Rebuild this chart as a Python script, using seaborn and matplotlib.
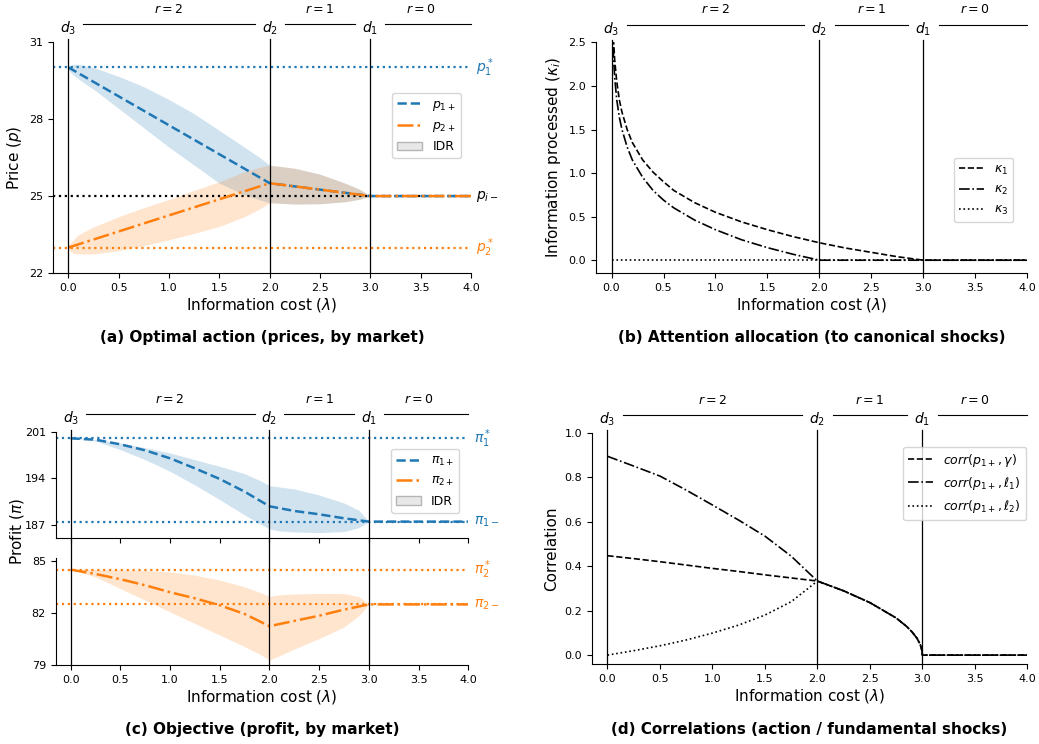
import matplotlib.pyplot as plt
import matplotlib.transforms as mtransforms
from matplotlib.lines import Line2D
from matplotlib.patches import Patch
import seaborn as sns

# regime markers drawn above every panel
d_pos = [0.0, 2.0, 3.0]
d_labels = ["$d_3$", "$d_2$", "$d_1$"]
r_labels = ["$r=2$", "$r=1$", "$r=0$"]
x_ticks = [0.0, 0.5, 1.0, 1.5, 2.0, 2.5, 3.0, 3.5, 4.0]

# (a) optimal prices
lam_a = [0.0, 2.0, 3.0, 4.0]
p1_plus = [30.0, 25.5, 25.0, 25.0]
p2_plus = [23.0, 25.5, 25.0, 25.0]
p1_star = 30.0
p_minus = 25.0
p2_star = 23.0
band_x_a = [0.0, 0.05, 0.1, 0.25, 0.5, 0.75, 1.0, 1.25, 1.5, 1.75, 1.9, 2.0, 2.25, 2.5, 2.75, 2.9, 3.0]
p1_upper = [30.05, 30.12, 30.12, 30.0, 29.65, 29.25, 28.75, 28.2, 27.55, 26.9, 26.5, 26.2, 26.08, 25.85, 25.5, 25.25, 25.0]
p1_lower = [29.9, 29.7, 29.55, 29.15, 28.4, 27.65, 26.9, 26.2, 25.5, 25.05, 24.85, 24.74, 24.69, 24.7, 24.78, 24.88, 25.0]
p2_upper = [23.1, 23.3, 23.5, 23.8, 24.2, 24.55, 24.87, 25.22, 25.56, 25.95, 26.12, 26.2, 26.08, 25.85, 25.5, 25.25, 25.0]
p2_lower = [22.9, 22.78, 22.75, 22.75, 22.88, 23.07, 23.3, 23.55, 23.82, 24.2, 24.5, 24.74, 24.69, 24.7, 24.78, 24.88, 25.0]

# (b) attention allocation
lam_b = [0.01, 0.02, 0.03, 0.05, 0.075, 0.1, 0.15, 0.2, 0.3, 0.4, 0.5, 0.6, 0.8, 1.0,
         1.25, 1.5, 1.75, 2.0, 2.25, 2.5, 2.75, 3.0, 3.5, 4.0]
kappa1 = [2.85, 2.5, 2.3, 2.05, 1.84, 1.7, 1.5, 1.35, 1.15, 1.01, 0.9, 0.8, 0.66, 0.55,
          0.44, 0.35, 0.27, 0.2, 0.14, 0.09, 0.04, 0.0, 0.0, 0.0]
kappa2 = [2.65, 2.3, 2.1, 1.84, 1.64, 1.5, 1.3, 1.15, 0.95, 0.8, 0.69, 0.6, 0.46, 0.35,
          0.235, 0.144, 0.067, 0.0, 0.0, 0.0, 0.0, 0.0, 0.0, 0.0]
lam_k3 = [0.0, 4.0]
kappa3 = [0.0, 0.0]

# (c) profits
lam_c = [0.0, 0.25, 0.5, 0.75, 1.0, 1.25, 1.5, 1.75, 2.0, 2.25, 2.5, 2.75, 3.0, 4.0]
pi1_plus = [200.0, 199.8, 199.1, 198.2, 197.0, 195.5, 193.9, 192.0, 189.8, 189.1, 188.6, 188.0, 187.5, 187.5]
pi2_plus = [84.5, 84.25, 83.95, 83.6, 83.2, 82.85, 82.45, 81.95, 81.25, 81.55, 81.85, 82.2, 82.5, 82.5]
pi1_star = 200.0
pi1_minus = 187.5
pi2_star = 84.5
pi2_minus = 82.5
band_x_c = [0.0, 0.25, 0.5, 0.75, 1.0, 1.25, 1.5, 1.75, 1.9, 2.0, 2.1, 2.25, 2.5, 2.75, 2.9, 3.0]
pi1_upper = [200.0, 199.8, 199.3, 198.6, 197.8, 196.8, 195.8, 194.7, 193.7, 192.9, 192.7, 192.4, 191.5, 190.3, 189.2, 187.5]
pi1_lower = [200.0, 199.6, 198.3, 196.8, 195.05, 193.0, 190.8, 188.5, 187.2, 186.4, 186.1, 185.95, 185.85, 186.0, 186.6, 187.5]
pi2_upper = [84.5, 84.52, 84.48, 84.45, 84.37, 84.18, 83.9, 83.5, 83.2, 82.97, 83.05, 83.1, 83.13, 83.12, 82.95, 82.5]
pi2_lower = [84.5, 84.08, 83.41, 82.74, 82.07, 81.4, 80.74, 80.07, 79.65, 79.3, 79.55, 79.93, 80.54, 81.2, 81.85, 82.5]

# (d) correlations
lam_d = [0.0, 0.25, 0.5, 0.75, 1.0, 1.25, 1.5, 1.75, 2.0, 2.25, 2.5, 2.75, 2.85, 2.9,
         2.95, 2.98, 2.995, 3.0, 4.0]
corr_gamma = [0.447, 0.434, 0.42, 0.405, 0.39, 0.376, 0.361, 0.347, 0.333, 0.289, 0.236,
              0.167, 0.129, 0.105, 0.075, 0.047, 0.023, 0.0, 0.0]
corr_l1 = [0.894, 0.85, 0.805, 0.742, 0.675, 0.607, 0.535, 0.445, 0.333, 0.289, 0.236,
           0.167, 0.129, 0.105, 0.075, 0.047, 0.023, 0.0, 0.0]
corr_l2 = [0.0, 0.02, 0.042, 0.068, 0.099, 0.135, 0.18, 0.24, 0.333, 0.289, 0.236,
           0.167, 0.129, 0.105, 0.075, 0.047, 0.023, 0.0, 0.0]

blue = '#1f77b4'
orange = '#ff7f0e'

plt.rcParams.update({
    'xtick.labelsize': 8,
    'ytick.labelsize': 8,
    'axes.labelsize': 11,
    'legend.fontsize': 9,
})


def add_regimes(ax, fig):
    xt = ax.get_xaxis_transform()
    line_tr = mtransforms.offset_copy(xt, fig=fig, y=12.5, units='points')
    bounds = d_pos + [4.0]
    for x, lab in zip(d_pos, d_labels):
        ax.annotate(lab, xy=(x, 1), xycoords=xt, xytext=(0, 9.5),
                    textcoords='offset points', ha='center', va='center', fontsize=10)
    for i, lab in enumerate(r_labels):
        x0, x1 = bounds[i], bounds[i + 1]
        end = x1 - 0.15 if i < 2 else x1
        ax.plot([x0 + 0.15, end], [1, 1], transform=line_tr, color='k', lw=0.8, clip_on=False)
        ax.annotate(lab, xy=((x0 + x1) / 2, 1), xycoords=xt, xytext=(0, 23.5),
                    textcoords='offset points', ha='center', va='center', fontsize=9)


def finish_x(ax, labels=True):
    ax.set_xlim(-0.15, 4.0)
    ax.set_xticks(x_ticks)
    ax.set_xticklabels([f"{t:.1f}" for t in x_ticks])
    if labels:
        ax.set_xlabel(r"Information cost ($\lambda$)", labelpad=2.5)
    else:
        ax.tick_params(labelbottom=False)
    sns.despine(ax=ax)


fig = plt.figure(figsize=(10.39, 7.44), dpi=100)

ax_a = fig.add_axes([0.0513, 0.6327, 0.4020, 0.3113])
ax_b = fig.add_axes([0.5736, 0.6327, 0.4151, 0.3103])
ax_c1 = fig.add_axes([0.0536, 0.2765, 0.3971, 0.1433])
ax_c2 = fig.add_axes([0.0536, 0.1058, 0.3971, 0.1438])
ax_d = fig.add_axes([0.5695, 0.1075, 0.4193, 0.3109])

## (a) prices
ax = ax_a
ax.fill_between(band_x_a, p1_lower, p1_upper, color=blue, alpha=0.2, lw=0)
ax.fill_between(band_x_a, p2_lower, p2_upper, color=orange, alpha=0.2, lw=0)
ax.axhline(p1_star, color=blue, ls=':', lw=1.6, zorder=1)
ax.axhline(p_minus, color='k', ls=':', lw=1.6, zorder=1)
ax.axhline(p2_star, color=orange, ls=':', lw=1.6, zorder=1)
sns.lineplot(x=lam_a, y=p1_plus, ax=ax, color=blue, linestyle='--', lw=1.8, legend=False)
sns.lineplot(x=lam_a, y=p2_plus, ax=ax, color=orange, linestyle='-.', lw=1.8, legend=False)
for x in d_pos:
    ax.axvline(x, color='k', lw=0.9, ymax=1.01, clip_on=False)
ax.text(4.05, p1_star, "$p_1^*$", color=blue, va='center', fontsize=10)
ax.text(4.05, p_minus, "$p_{i-}$", color='k', va='center', fontsize=10)
ax.text(4.05, p2_star, "$p_2^*$", color=orange, va='center', fontsize=10)
handles = [Line2D([], [], color=blue, ls='--', lw=1.8),
           Line2D([], [], color=orange, ls='-.', lw=1.8),
           Patch(facecolor='#e8e8e8', edgecolor='#b5b5b5')]
ax.legend(handles, ["$p_{1+}$", "$p_{2+}$", "IDR"], loc='center right',
          bbox_to_anchor=(0.976, 0.638), borderaxespad=0)
add_regimes(ax, fig)
ax.set_ylim(22, 31)
ax.set_yticks([22, 25, 28, 31])
ax.set_ylabel("Price ($p$)")
finish_x(ax)

## (b) attention
ax = ax_b
sns.lineplot(x=lam_b, y=kappa1, ax=ax, color='k', linestyle='--', lw=1.2, legend=False)
sns.lineplot(x=lam_b, y=kappa2, ax=ax, color='k', linestyle='-.', lw=1.2, legend=False)
sns.lineplot(x=lam_k3, y=kappa3, ax=ax, color='k', linestyle=':', lw=1.2, legend=False)
for x in d_pos:
    ax.axvline(x, color='k', lw=0.9, ymax=1.01, clip_on=False)
handles = [Line2D([], [], color='k', ls='--', lw=1.2),
           Line2D([], [], color='k', ls='-.', lw=1.2),
           Line2D([], [], color='k', ls=':', lw=1.2)]
ax.legend(handles, [r"$\kappa_1$", r"$\kappa_2$", r"$\kappa_3$"], loc='center right',
          bbox_to_anchor=(0.9675, 0.361), borderaxespad=0)
add_regimes(ax, fig)
ax.set_ylim(-0.15, 2.5)
ax.set_yticks([0.0, 0.5, 1.0, 1.5, 2.0, 2.5])
ax.set_ylabel(r"Information processed ($\kappa_i$)")
finish_x(ax)

## (c) profits, broken axis
ax = ax_c1
ax.fill_between(band_x_c, pi1_lower, pi1_upper, color=blue, alpha=0.2, lw=0)
ax.axhline(pi1_star, color=blue, ls=':', lw=1.6, zorder=1)
ax.axhline(pi1_minus, color=blue, ls=':', lw=1.6, zorder=1)
sns.lineplot(x=lam_c, y=pi1_plus, ax=ax, color=blue, linestyle='--', lw=1.8, legend=False)
for x in d_pos:
    ax.axvline(x, color='k', lw=0.9, ymax=1.02, clip_on=False)
ax.text(4.06, pi1_star, r"$\pi_1^*$", color=blue, va='center', fontsize=10)
ax.text(4.06, pi1_minus, r"$\pi_{1-}$", color=blue, va='center', fontsize=10)
handles = [Line2D([], [], color=blue, ls='--', lw=1.8),
           Line2D([], [], color=orange, ls='-.', lw=1.8),
           Patch(facecolor='#e8e8e8', edgecolor='#b5b5b5')]
ax.legend(handles, [r"$\pi_{1+}$", r"$\pi_{2+}$", "IDR"], loc='center right',
          bbox_to_anchor=(0.978, 0.539), borderaxespad=0)
add_regimes(ax, fig)
ax.set_ylim(185, 201)
ax.set_yticks([187, 194, 201])
finish_x(ax, labels=False)

ax = ax_c2
ax.fill_between(band_x_c, pi2_lower, pi2_upper, color=orange, alpha=0.2, lw=0)
ax.axhline(pi2_star, color=orange, ls=':', lw=1.6, zorder=1)
ax.axhline(pi2_minus, color=orange, ls=':', lw=1.6, zorder=1)
sns.lineplot(x=lam_c, y=pi2_plus, ax=ax, color=orange, linestyle='-.', lw=1.8, legend=False)
for x in d_pos:
    ax.axvline(x, color='k', lw=0.9, ymax=1.19, clip_on=False)
ax.text(4.06, pi2_star, r"$\pi_2^*$", color=orange, va='center', fontsize=10)
ax.text(4.06, pi2_minus, r"$\pi_{2-}$", color=orange, va='center', fontsize=10)
ax.set_ylim(79, 85.15)
ax.set_yticks([79, 82, 85])
finish_x(ax)
fig.text(0.016, 0.285, r"Profit ($\pi$)", rotation=90, ha='center', va='center', fontsize=11)

## (d) correlations
ax = ax_d
sns.lineplot(x=lam_d, y=corr_gamma, ax=ax, color='k', linestyle='--', lw=1.2, legend=False)
sns.lineplot(x=lam_d, y=corr_l1, ax=ax, color='k', linestyle='-.', lw=1.2, legend=False)
sns.lineplot(x=lam_d, y=corr_l2, ax=ax, color='k', linestyle=':', lw=1.2, legend=False)
for x in d_pos:
    ax.axvline(x, color='k', lw=0.9, ymax=1.01, clip_on=False)
handles = [Line2D([], [], color='k', ls='--', lw=1.2),
           Line2D([], [], color='k', ls='-.', lw=1.2),
           Line2D([], [], color='k', ls=':', lw=1.2)]
ax.legend(handles, [r"$corr(p_{1+}, \gamma)$", r"$corr(p_{1+}, \ell_1)$", r"$corr(p_{1+}, \ell_2)$"],
          loc='upper right', bbox_to_anchor=(0.997, 0.94), borderaxespad=0)
add_regimes(ax, fig)
ax.set_ylim(-0.04, 1.0)
ax.set_yticks([0.0, 0.2, 0.4, 0.6, 0.8, 1.0])
ax.set_ylabel("Correlation")
finish_x(ax)

## panel captions
cap_kw = dict(ha='center', va='center', fontsize=11, fontweight='bold')
fig.text(0.252, 0.5457, "(a) Optimal action (prices, by market)", **cap_kw)
fig.text(0.781, 0.5457, "(b) Attention allocation (to canonical shocks)", **cap_kw)
fig.text(0.252, 0.0198, "(c) Objective (profit, by market)", **cap_kw)
fig.text(0.779, 0.0198, "(d) Correlations (action / fundamental shocks)", **cap_kw)

plt.savefig("out.png", dpi=100)
plt.close()
